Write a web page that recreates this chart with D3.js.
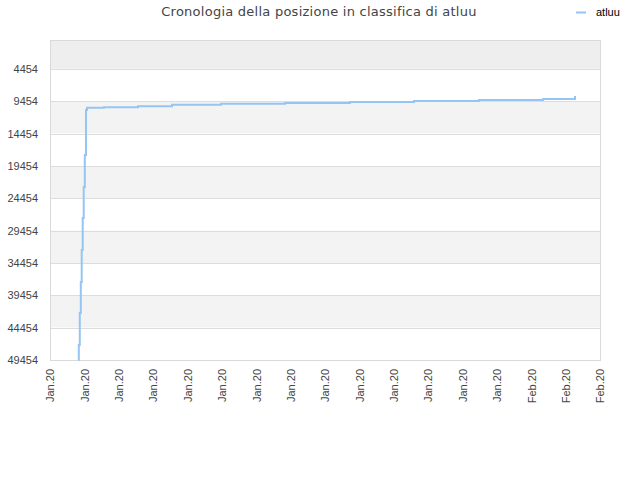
<!DOCTYPE html>
<html>
<head>
<meta charset="utf-8">
<script src="https://cdn.jsdelivr.net/npm/d3@7"></script>
<style>
  body { margin: 0; background: #fff; }
  svg text { font-family: "Liberation Sans", Arial, sans-serif; }
</style>
</head>
<body>
<svg id="chart" width="640" height="480"></svg>
<script>
// ranking history of atluu: timestamp + position (lower is better)
const times = [
  "2020-01-18T19:54", "2020-01-18T20:07", "2020-01-18T20:48", "2020-01-18T21:30",
  "2020-01-18T22:08", "2020-01-18T22:50", "2020-01-18T23:32", "2020-01-19T00:18",
  "2020-01-19T01:08", "2020-01-19T01:50", "2020-01-19T13:42", "2020-01-20T13:26",
  "2020-01-21T13:11", "2020-01-22T23:24", "2020-01-24T20:04", "2020-01-26T17:27",
  "2020-01-28T14:08", "2020-01-30T11:31", "2020-02-01T08:12", "2020-02-02T06:33"
];
const ranks = [
  49454, 47136, 42186, 37394,
  32447, 27510, 22720, 17776,
  10818, 10479, 10386, 10231,
  10015, 9860, 9736, 9582,
  9427, 9273, 9118, 8654
];
const yTicks = [4454, 9454, 14454, 19454, 24454, 29454, 34454, 39454, 44454, 49454];
const xStart = "2020-01-18T00:00", xEnd = "2020-02-03T00:00";
const seriesName = "atluu";
const title = "Cronologia della posizione in classifica di atluu";

const margin = { top: 40, right: 40, bottom: 120, left: 50 },
  W = 640, H = 480,
  width = W - margin.left - margin.right,
  height = H - margin.top - margin.bottom;

let parse = d3.timeParse("%Y-%m-%dT%H:%M");
let data = times.map((t, i) => ({ date: parse(t), rank: ranks[i] }));

let svg = d3.select("#chart");

let x = d3.scaleTime()
  .domain([parse(xStart), parse(xEnd)])
  .range([0, width]);
let y = d3.scaleLinear()
  .domain([0, 49454])
  .range([0, height]);

let g = svg.append("g")
  .attr("transform", "translate(" + margin.left + "," + margin.top + ")");

/* alternating bands between the y ticks */
let edges = [0].concat(yTicks);
let bands = d3.pairs(edges);
g.selectAll("rect.band")
  .data(bands)
  .enter().append("rect")
  .attr("class", "band")
  .attr("x", 0)
  .attr("width", width)
  .attr("y", d => y(d[0]))
  .attr("height", d => y(d[1]) - y(d[0]))
  .attr("fill", (d, i) => i == 0 ? "#eeeeee" : (i % 2 ? "#ffffff" : "#f3f3f3"));

// grid lines
g.selectAll("line.grid")
  .data(yTicks)
  .enter().append("line")
  .attr("class", "grid")
  .attr("x1", 0).attr("x2", width)
  .attr("y1", d => Math.round(y(d)) + 0.5)
  .attr("y2", d => Math.round(y(d)) + 0.5)
  .attr("stroke", "#dddddd");

// frame
g.append("rect")
  .attr("x", 0.5).attr("y", 0.5)
  .attr("width", width).attr("height", height)
  .attr("fill", "none")
  .attr("stroke", "#d9d9d9");

// y axis
let yAxis = d3.axisLeft(y).tickValues(yTicks).tickFormat(d3.format("d"))
  .tickSize(0).tickPadding(12);
let gy = g.append("g").call(yAxis);
gy.select(".domain").remove();
gy.selectAll("text")
  .attr("font-size", 11)
  .attr("fill", "#444");

// x axis, daily ticks
let xAxis = d3.axisBottom(x)
  .ticks(d3.timeDay.every(1))
  .tickFormat(d3.timeFormat("%b.%y"))
  .tickSize(0);
let gx = g.append("g")
  .attr("transform", "translate(0," + height + ")")
  .call(xAxis);
gx.select(".domain").remove();
gx.selectAll("text")
  .attr("font-size", 11)
  .attr("fill", "#444")
  .attr("transform", "rotate(-90)")
  .attr("text-anchor", "end")
  .attr("dx", "-9")
  .attr("dy", "0.35em")
  .attr("y", 0);

// the ranking line
let line = d3.line()
  .x(d => x(d.date))
  .y(d => y(d.rank))
  .curve(d3.curveStepAfter);
g.append("path")
  .datum(data)
  .attr("d", line)
  .attr("fill", "none")
  .attr("stroke", "#95c6f3")
  .attr("stroke-width", 2);

// title
svg.append("text")
  .attr("x", 319).attr("y", 16)
  .attr("text-anchor", "middle")
  .style("font-family", "'DejaVu Sans', sans-serif")
  .attr("font-size", 13)
  .attr("letter-spacing", 0.25)
  .attr("fill", "#444")
  .text(title);

// legend
svg.append("line")
  .attr("x1", 576).attr("x2", 586)
  .attr("y1", 12.5).attr("y2", 12.5)
  .attr("stroke", "#95c6f3")
  .attr("stroke-width", 2);
svg.append("text")
  .attr("x", 596).attr("y", 16)
  .attr("font-size", 11)
  .attr("fill", "#000")
  .text(seriesName);
</script>
</body>
</html>
